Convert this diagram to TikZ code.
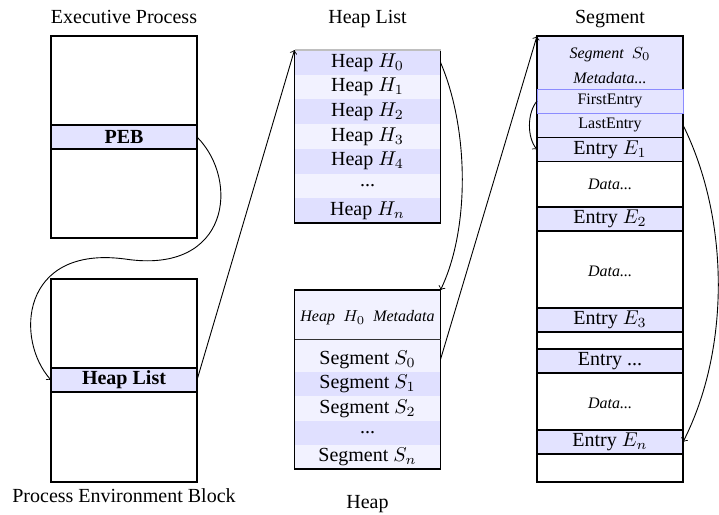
\documentclass[tikz,border=0pt]{standalone}
\usepackage[no-math]{fontspec}
\setmainfont{Liberation Serif}
\begin{document}
\begin{tikzpicture}[x=0.5pt, y=-0.5pt,
  every node/.style={inner sep=0pt, outer sep=0pt},
  boxline/.style={line width=0.7pt},
  outerbox/.style={draw, line width=0.7pt, minimum width=73pt},
  band/.style={draw, line width=0.7pt, fill=blue!11, minimum width=73pt, minimum height=12pt},
  rowdark/.style={fill=blue!12, minimum width=73pt, minimum height=12.36pt},
  rowlight/.style={fill=blue!5, minimum width=73pt, minimum height=12.36pt},
  caption/.style={anchor=base},
  smalltext/.style={font=\footnotesize},
  datatext/.style={font=\footnotesize\itshape},
  link/.style={->, line width=0.45pt},
]
\useasboundingbox (0,0) rectangle (719,515);

% captions
\node[caption] (tEP)   at (124,23)    {Executive Process};
\node[caption] (tHL)   at (367.5,23)  {Heap List};
\node[caption] (tSeg)  at (610,23)    {Segment};
\node[caption] (tPEB)  at (124,502)   {Process Environment Block};
\node[caption] (tHeap) at (367.5,508) {Heap};

% executive process and its PEB
\node[outerbox, minimum height=101pt] (exec) at (124,137) {};
\node[band, font=\bfseries] (peb) at (124,137) {PEB};
\node[outerbox, minimum height=101.5pt] (pebox) at (124,380.5) {};
\node[band, font=\bfseries] (hlref) at (124,380) {Heap List};

% heap list
\node[rowdark]  (h0) at (367.5,62.36)  {Heap $H_0$};
\node[rowlight] (h1) at (367.5,87.07)  {Heap $H_1$};
\node[rowdark]  (h2) at (367.5,111.79) {Heap $H_2$};
\node[rowlight] (h3) at (367.5,136.5)  {Heap $H_3$};
\node[rowdark]  (h4) at (367.5,161.21) {Heap $H_4$};
\node[rowlight] (hd) at (367.5,185.93) {...};
\node[rowdark]  (hn) at (367.5,210.64) {Heap $H_n$};
\node[minimum width=73pt, minimum height=86.5pt] (hlist) at (367.5,136.5) {};
\draw[boxline] (hlist.north east) -- (hlist.south east) -- (hlist.south west) -- (hlist.north west);
\draw[boxline, gray!50] (hlist.north west) -- (hlist.north east);

% heap
\node[fill=blue!5, minimum width=73pt, minimum height=89.5pt] (heap) at (367.5,379.5) {};
\node[minimum width=73pt, minimum height=24.5pt] (hmeta) at (367.5,314.5) {};
\node[font=\footnotesize] (hmetatext) at (367.5,318)
  {\textit{Heap}\ \ $H_0$\ \ \textit{Metadata}};
\node[rowlight] (s0) at (367.5,359.5) {Segment $S_0$};
\node[rowdark]  (s1) at (367.5,384)   {Segment $S_1$};
\node[rowlight] (s2) at (367.5,408.5) {Segment $S_2$};
\node[rowdark]  (sd) at (367.5,433)   {...};
\node[rowlight] (sn) at (367.5,457)   {Segment $S_n$};
\draw[boxline] (heap.north west) rectangle (heap.south east);
\draw[line width=0.5pt, black!80] (hmeta.south west) -- (hmeta.south east);

% segment
\node[minimum width=73pt, minimum height=223pt] (seg) at (610,259) {};
\node[fill=blue!10, minimum width=73pt, minimum height=26.5pt] (smeta) at (610,62.5) {};
\node[datatext] (smetaA) at (610,55) {Segment\ \ \upshape$S_0$};
\node[datatext] (smetaB) at (610,78) {Metadata...};
\node[fill=blue!10, smalltext, minimum width=73pt, minimum height=12pt] (le) at (610,125) {LastEntry};
\node[band] (e1) at (610,149.5) {Entry $E_1$};
\node[datatext] (d1) at (610,184) {Data...};
\node[band] (e2) at (610,219) {Entry $E_2$};
\node[datatext] (d2) at (610,271) {Data...};
\node[band] (e3) at (610,320) {Entry $E_3$};
\node[band] (ed) at (610,361) {Entry ...};
\node[datatext] (d3) at (610,403) {Data...};
\node[band] (en) at (610,442) {Entry $E_n$};
\draw[boxline] (seg.north west) rectangle (seg.south east);
\node[fill=blue!10, draw=blue!45, line width=0.4pt, smalltext, minimum width=73pt, minimum height=12pt] (fe) at (610,101) {FirstEntry};

% pointers
\coordinate (pmid) at (125,259);
\draw[link] (peb.east) .. controls (240,180) and (230,275) .. (pmid)
  .. controls (20,245) and (15,340) .. (hlref.west);
\draw[link] (hlref.east) -- (hlist.north west);
\draw[link] (h0.east) .. controls +(29,68) and +(29,-60) .. (heap.north east);
\draw[link] (s0.east) -- (seg.north west);
\draw[link] (fe.west) .. controls +(-10,12) and +(-10,-12) .. (e1.west);
\draw[link] (le.east) .. controls +(47,95) and +(47,-92) .. (en.east);
\end{tikzpicture}
\end{document}
